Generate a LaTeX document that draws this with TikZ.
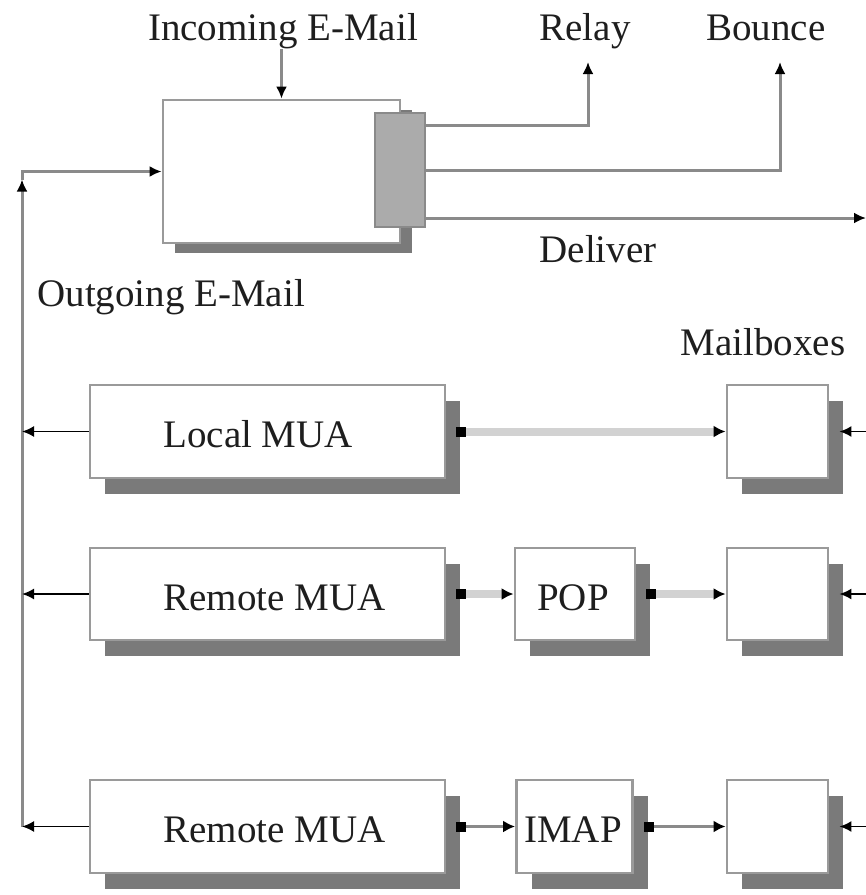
\documentclass[tikz,border=0pt]{standalone}
\usepackage{fontspec}
\setmainfont{Liberation Serif}
\usetikzlibrary{arrows.meta,shadows,calc}
\definecolor{edgegray}{HTML}{9A9A9A}
\definecolor{shadowgray}{HTML}{7A7A7A}
\definecolor{portgray}{HTML}{ABABAB}
\definecolor{wiregray}{HTML}{8A8A8A}
\definecolor{palewire}{HTML}{D2D2D2}
\definecolor{ink}{HTML}{1E1E1E}

\tikzset{
  wh/.style 2 args={minimum width=#1*0.5pt, minimum height=#2*0.5pt},
  blk/.style={draw=edgegray, line width=1.4pt, fill=white, inner sep=0pt},
  deep/.style={blk, general shadow={fill=shadowgray, shadow xshift=7.5pt, shadow yshift=-8pt}},
  lbl/.style={font=\fontsize{19.5}{22}\selectfont, text=ink, inner sep=0pt, anchor=base},
  arrowtip/.style={-{Latex[length=6pt,width=5.5pt,color=black]}},
  wire/.style={draw=wiregray, line width=1.5pt},
  feed/.style={draw=black, line width=0.9pt, arrowtip},
  pale/.style={draw=palewire, line width=4pt,
    {Square[length=5pt,width=5pt,color=black]}-{Latex[length=6pt,width=6pt,color=black]}},
  slim/.style={wire,
    {Square[length=5pt,width=5pt,color=black]}-{Latex[length=6pt,width=6pt,color=black]}}
}

\begin{document}
\begin{tikzpicture}[x=0.5pt,y=-0.5pt]
\useasboundingbox (0,0) rectangle (866,895);

% ---- mail transfer agent with its dispatch port ----
\node[blk, wh={237}{143},
  general shadow={fill=shadowgray, shadow xshift=6pt, shadow yshift=-5pt}] (mta) at (281.5,171.5) {};
\node[draw=wiregray, line width=1.3pt, fill=portgray, inner sep=0pt, wh={50}{114}] (port) at (400,170) {};

% ---- labels ----
\node[lbl] (incoming) at (283,40) {Incoming E-Mail};
\node[lbl] (relay) at (585,40) {Relay};
\node[lbl] (bounce) at (766,40) {Bounce};
\node[lbl] (deliver) at (598,262) {Deliver};
\node[lbl, anchor=base west] (outgoing) at (37,306) {Outgoing E-Mail};
\node[lbl] (mailboxes) at (763,355) {Mailboxes};

% ---- user agents, access servers and mailboxes ----
\node[deep, wh={355}{93}] (lmua) at (267.5,431.5) {};
\node[lbl, anchor=base west] (lmuatext) at (163,447) {Local MUA};
\node[deep, wh={101}{93}] (mbox1) at (777.5,431.5) {};

\node[deep, wh={355}{92}] (rmua1) at (267.5,594) {};
\node[lbl, anchor=base west] (rmua1text) at (163,610) {Remote MUA};
\node[deep, wh={120}{92}] (pop) at (575,594) {};
\node[lbl] (poptext) at (573,610) {POP};
\node[deep, wh={101}{92}] (mbox2) at (777.5,594) {};

\node[deep, wh={355}{93}] (rmua2) at (267.5,826.5) {};
\node[lbl, anchor=base west] (rmua2text) at (163,842) {Remote MUA};
\node[deep, wh={116}{93}] (imap) at (574.5,826.5) {};
\node[lbl] (imaptext) at (573,842) {IMAP};
\node[deep, wh={101}{93}] (mbox3) at (777.5,826.5) {};

% ---- free ends ----
\coordinate (relayEnd) at (588,62);
\coordinate (bounceEnd) at (780,62);
\coordinate (deliverEnd) at (866,218);
\coordinate (spineTop) at (22,171.5);
\coordinate (spineBottom) at (22,826.5);
\coordinate (rightEdge) at (866,0);

% ---- transfer agent connections ----
\draw[wire, arrowtip] (incoming.south -| mta.north) -- (mta.north);
\draw[wire, arrowtip] ([yshift=22.5pt]port.east) -| (relayEnd);
\draw[wire, arrowtip] (port.east) -| (bounceEnd);
\draw[wire, arrowtip] ([yshift=-24pt]port.east) -- (deliverEnd);

% ---- outgoing mail spine ----
\draw[wire, arrowtip] (spineBottom) -- ([yshift=-4pt]spineTop);
\draw[wire, arrowtip] ([yshift=-4pt]spineTop) -- (spineTop) -- (mta.west);
\draw[feed] (lmua.west) -- (lmua.west -| spineTop);
\draw[feed] (rmua1.west) -- (rmua1.west -| spineTop);
\draw[feed] (rmua2.west) -- (rmua2.west -| spineTop);

% ---- deliveries into the mailboxes ----
\draw[feed] (mbox1.east -| rightEdge) -- ([xshift=5pt]mbox1.east);
\draw[feed] (mbox2.east -| rightEdge) -- ([xshift=5pt]mbox2.east);
\draw[feed] (mbox3.east -| rightEdge) -- ([xshift=5pt]mbox3.east);

% ---- mailbox access ----
\draw[pale] ([xshift=5pt]lmua.east) -- (mbox1.west);
\draw[pale] ([xshift=5pt]rmua1.east) -- (pop.west);
\draw[pale] ([xshift=5pt]pop.east) -- (mbox2.west);
\draw[slim] ([xshift=5pt]rmua2.east) -- (imap.west);
\draw[slim] ([xshift=5pt]imap.east) -- (mbox3.west);
\end{tikzpicture}
\end{document}
